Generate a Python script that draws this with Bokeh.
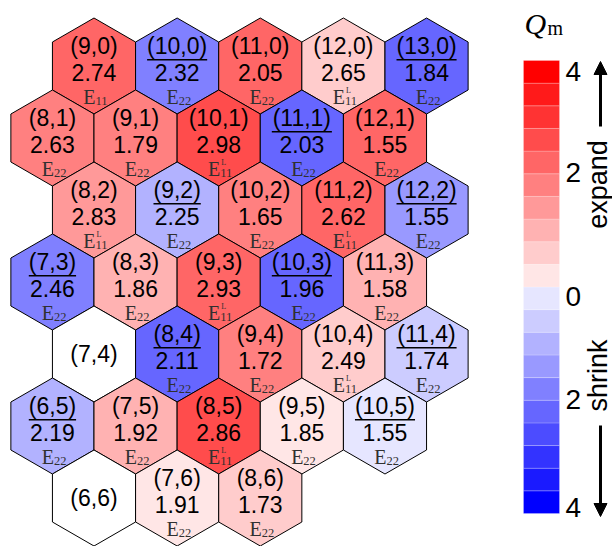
import math
from bokeh.plotting import figure
from bokeh.models import (ColumnDataSource, LinearColorMapper, Label, Arrow, NormalHead, Range1d)
from bokeh.transform import transform
from bokeh.core.properties import value
from bokeh.embed import file_html
from bokeh.resources import INLINE

# ---------------- data ----------------
n_index = [9, 10, 11, 12, 13,
           8, 9, 10, 11, 12,
           8, 9, 10, 11, 12,
           7, 8, 9, 10, 11,
           7, 8, 9, 10, 11,
           6, 7, 8, 9, 10,
           6, 7, 8]
m_index = [0, 0, 0, 0, 0,
           1, 1, 1, 1, 1,
           2, 2, 2, 2, 2,
           3, 3, 3, 3, 3,
           4, 4, 4, 4, 4,
           5, 5, 5, 5, 5,
           6, 6, 6]
energies = ["2.74", "2.32", "2.05", "2.65", "1.84",
            "2.63", "1.79", "2.98", "2.03", "1.55",
            "2.83", "2.25", "1.65", "2.62", "1.55",
            "2.46", "1.86", "2.93", "1.96", "1.58",
            "", "2.11", "1.72", "2.49", "1.74",
            "2.19", "1.92", "2.86", "1.85", "1.55",
            "", "1.91", "1.73"]
transition = ["11", "22", "22", "11L", "22",
              "22", "22", "11L", "22", "22",
              "11L", "22", "22", "11L", "22",
              "22", "22", "11L", "22", "22",
              "", "22", "22", "11L", "22",
              "22", "22", "11L", "22", "22",
              "", "22", "22"]
# signed Q_m : positive = expand (red), negative = shrink (blue)
q_m = [2.2, -1.8, 2.2, 0.6, -2.2,
       1.8, 1.8, 2.6, -2.2, 2.2,
       1.4, -1.0, 1.8, 2.2, -1.4,
       -1.8, 1.0, 2.2, -2.2, 1.0,
       float("nan"), -2.2, 1.8, 0.6, -0.6,
       -1.0, 1.0, 2.6, 0.2, -0.2,
       float("nan"), 0.2, 0.6]
cbar_ticks = [4, 2, 0, -2, -4]
cbar_tick_labels = ["4", "2", "0", "2", "4"]
cbar_low, cbar_high, cbar_bands = -4.0, 4.0, 20

# ---------------- palette (20 bands, blue -> white -> red) ----------------
half = cbar_bands // 2
blues = []
reds = []
for k in range(half):
    gb = int(round(255 * k / half))
    blues.append("#%02x%02xff" % (gb, gb))
    gr = int(round(255 * (half - 1 - k) / half))
    reds.append("#ff%02x%02x" % (gr, gr))
palette = blues + reds
mapper = LinearColorMapper(palette=palette, low=cbar_low, high=cbar_high, nan_color="white")

# ---------------- geometry ----------------
W, H = 612, 546
PPU = 48.0                      # hexagon circumradius in pixels
SQ3 = math.sqrt(3)
cx0, cy0 = 93.5, 65.5           # pixel centre of the (9,0) tile
x_start = 9 * SQ3 - cx0 / PPU
y_top = cy0 / PPU

p = figure(width=W, height=H, output_backend="svg", toolbar_location=None,
           x_range=Range1d(x_start, x_start + W / PPU),
           y_range=Range1d(y_top - H / PPU, y_top),
           x_axis_type=None, y_axis_type=None, min_border=0,
           outline_line_color=None)
p.background_fill_color = "white"
p.border_fill_color = "white"

cx = [SQ3 * (n + m / 2.0) for n, m in zip(n_index, m_index)]
cy = [-1.5 * m for m in m_index]
labels = ["(%d,%d)" % (n, m) for n, m in zip(n_index, m_index)]

src = ColumnDataSource(dict(q=n_index, r=m_index, Q=q_m))
p.hex_tile(q="q", r="r", size=1, orientation="pointytop", source=src,
           fill_color=transform("Q", mapper), line_color="black", line_width=1)

SANS = value("Liberation Sans")
SERIF = value("Liberation Serif")
FS = 23

has_val = [i for i in range(len(labels)) if energies[i]]
no_val = [i for i in range(len(labels)) if not energies[i]]

def sub(lst, idx):
    return [lst[i] for i in idx]

s_val = ColumnDataSource(dict(x=sub(cx, has_val), y=sub(cy, has_val),
                              lab=sub(labels, has_val), e=sub(energies, has_val),
                              t=[transition[i][:2] for i in has_val],
                              L=["L" if transition[i].endswith("L") else "" for i in has_val]))
s_nov = ColumnDataSource(dict(x=sub(cx, no_val), y=sub(cy, no_val), lab=sub(labels, no_val)))

p.text(x="x", y="y", text="lab", source=s_val, text_font=SANS, text_font_size="%dpx" % FS,
       text_align="center", text_baseline="middle", y_offset=-20.5, text_color="black")
p.text(x="x", y="y", text="e", source=s_val, text_font=SANS, text_font_size="%dpx" % FS,
       text_align="center", text_baseline="middle", y_offset=6.2, text_color="black")
p.text(x="x", y="y", text="lab", source=s_nov, text_font=SANS, text_font_size="%dpx" % FS,
       text_align="center", text_baseline="middle", y_offset=0, text_color="black")

# E_ii labels
ECOL = "#303030"
p.text(x="x", y="y", text=value("E"), source=s_val, text_font=SERIF, text_font_size="20px",
       text_align="right", text_baseline="middle", x_offset=1.5, y_offset=30.8,
       text_color=ECOL)
p.text(x="x", y="y", text="t", source=s_val, text_font=SERIF, text_font_size="12.5px",
       text_align="left", text_baseline="middle", x_offset=1.5, y_offset=34.5,
       text_color=ECOL)
p.text(x="x", y="y", text="L", source=s_val, text_font=SERIF, text_font_size="8px",
       text_align="left", text_baseline="middle", x_offset=2.5, y_offset=24.8,
       text_color=ECOL)

# underline for the shrinking tubes
ADV = {"(": 0.333, ")": 0.333, ",": 0.278}
ux0, ux1, uy = [], [], []
for i in range(len(labels)):
    if energies[i] and q_m[i] < 0:
        w_em = sum(ADV.get(ch, 0.556) for ch in labels[i])
        hw = w_em * FS / 2.0 / PPU
        ux0.append(cx[i] - hw)
        ux1.append(cx[i] + hw)
        uy.append(cy[i] + 6.2 / PPU)
p.segment(x0=ux0, y0=uy, x1=ux1, y1=uy, line_color="black", line_width=1.5)

# ---------------- colour bar (own ranges) ----------------
BAR_L, BAR_R, BAR_T, BAR_B = 523.0, 559.0, 60.0, 513.0     # pixels
ppv = (BAR_B - BAR_T) / (cbar_high - cbar_low)
p.extra_y_ranges = {"cb": Range1d(cbar_high - (H - BAR_T) / ppv, cbar_high + BAR_T / ppv)}
p.extra_x_ranges = {"cbx": Range1d(-BAR_L / (BAR_R - BAR_L), (W - BAR_L) / (BAR_R - BAR_L))}
step = (cbar_high - cbar_low) / cbar_bands
edges = [cbar_low + i * step for i in range(cbar_bands + 1)]
p.quad(left=0, right=1, bottom=edges[:-1], top=edges[1:], fill_color=palette,
       line_color="white", line_alpha=0.35, line_width=0.6,
       x_range_name="cbx", y_range_name="cb")
tick_dy = [11, -0.8, 9.3, -0.6, -6.3]
p.text(x=[1] * len(cbar_ticks), y=cbar_ticks, text=cbar_tick_labels, x_offset=6,
       y_offset=tick_dy, text_font=SANS, text_font_size="28px", text_baseline="middle",
       text_align="left", text_color="black", x_range_name="cbx", y_range_name="cb")

# title Q_m
p.add_layout(Label(x=524, y=H - 22.5, x_units="screen", y_units="screen", text="Q",
                   text_font="Liberation Serif", text_font_style="italic",
                   text_font_size="30px", text_baseline="middle", text_align="left",
                   text_color="black"))
p.add_layout(Label(x=547, y=H - 27, x_units="screen", y_units="screen", text="m",
                   text_font="Liberation Serif", text_font_size="20px",
                   text_baseline="middle", text_align="left", text_color="black"))

# expand / shrink
p.add_layout(Label(x=597, y=H - 184, x_units="screen", y_units="screen", text="expand",
                   angle=math.pi / 2, text_font="Liberation Sans", text_font_size="27px",
                   text_baseline="middle", text_align="center", text_color="black"))
p.add_layout(Label(x=597, y=H - 375, x_units="screen", y_units="screen", text="shrink",
                   angle=math.pi / 2, text_font="Liberation Sans", text_font_size="27px",
                   text_baseline="middle", text_align="center", text_color="black"))
p.add_layout(Arrow(x_start=600, y_start=H - 126, x_end=600, y_end=H - 61,
                   start_units="screen", end_units="screen", line_width=3,
                   end=NormalHead(size=13, fill_color="black", line_color="black")))
p.add_layout(Arrow(x_start=600, y_start=H - 425, x_end=600, y_end=H - 516,
                   start_units="screen", end_units="screen", line_width=3,
                   end=NormalHead(size=13, fill_color="black", line_color="black")))

open("out.html", "w").write(file_html(p, INLINE))
